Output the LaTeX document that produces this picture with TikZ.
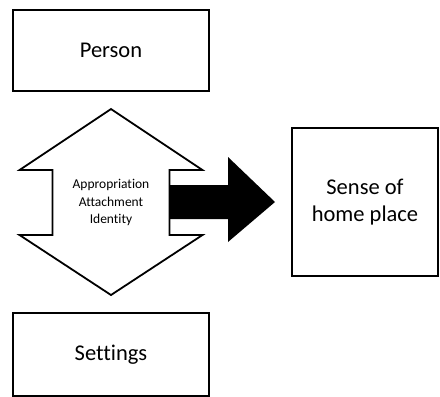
\documentclass[tikz,border=0pt]{standalone}
\usepackage{fontspec}
\setmainfont[Ligatures=NoCommon]{Carlito}
\usetikzlibrary{positioning, calc}

\begin{document}
\begin{tikzpicture}[
            x=1pt,
            y=-1pt,
            box/.style={draw, line width=2.5pt, inner sep=0pt, align=center,
                        font=\fontsize{22.5}{26.5}\selectfont},
            outline/.style={draw, line width=1.8pt, fill=white, line join=miter},
            bigarrow/.style={fill=black}
        ]

            \useasboundingbox (0,0) rectangle (440,397);

            % --- Definitions ---
            \def\cx{111}    % centre of the left column
            \def\hw{91.5}   % half width of the arrow heads
            \def\sw{58.5}   % half width of the shaft

            % --- Boxes ---
            \node[box, minimum width=196, minimum height=81] (person) at (\cx,50.5) {Person};
            \node[box, minimum width=196, minimum height=83] (settings) at (\cx,354.5) {Settings};
            \node[box, minimum width=146, minimum height=148] (home) at (365,202) {Sense of\\home place};

            % --- Double Arrow Coordinates ---
            \coordinate (T)  at (\cx,109);      % top tip
            \coordinate (B)  at (\cx,295);      % bottom tip
            \coordinate (HL) at (\cx-\hw,170);  % upper head, left
            \coordinate (HR) at (\cx+\hw,170);  % upper head, right
            \coordinate (SL) at (\cx-\sw,170);
            \coordinate (SR) at (\cx+\sw,170);
            \coordinate (LL) at (\cx-\hw,235);  % lower head, left
            \coordinate (LR) at (\cx+\hw,235);  % lower head, right
            \coordinate (QL) at (\cx-\sw,235);
            \coordinate (QR) at (\cx+\sw,235);

            % --- 1. Double Arrow ---
            \draw[outline] (T) -- (HR) -- (SR) -- (QR) -- (LR) -- (B)
                -- (LL) -- (QL) -- (SL) -- (HL) -- cycle;
            \node[align=center, font=\fontsize{13.5}{17.5}\selectfont] (mid) at (\cx,202.5)
                {Appropriation\\Attachment\\Identity};

            % --- 2. Black Arrow ---
            \coordinate (A0) at (\cx+\sw,202);
            \coordinate (A1) at (275,202);
            \fill[bigarrow] ($(A0)+(0,-17)$) -- (228,185) -- (228,157) -- (A1)
                -- (228,242) -- (228,219) -- ($(A0)+(0,17)$) -- cycle;

        \end{tikzpicture}
\end{document}
